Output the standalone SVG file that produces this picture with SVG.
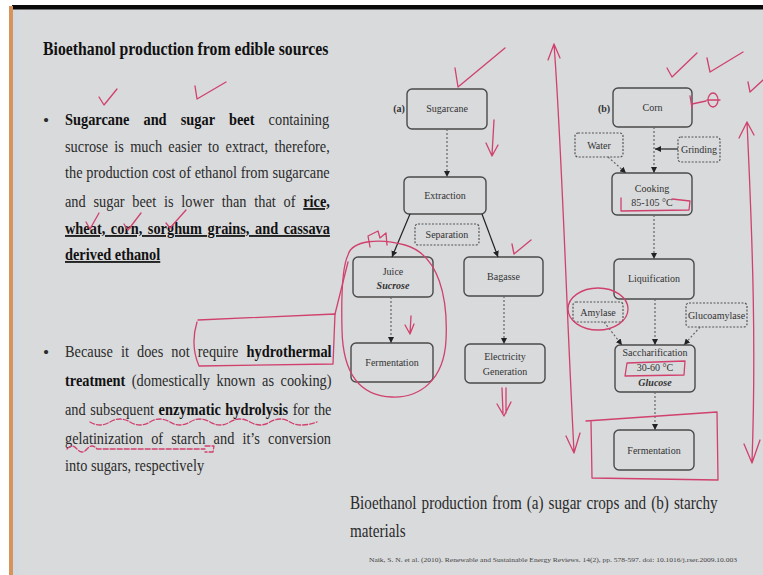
<svg xmlns="http://www.w3.org/2000/svg" width="763" height="575" viewBox="0 0 763 575">
<defs>
<style>
.t{font-family:"Liberation Serif","Times New Roman",serif;}
.body{font-size:17.5px;fill:#2a2a2a;}
.b{font-weight:bold;fill:#111;}
.u{text-decoration:underline;}
.lbl{font-family:"Liberation Serif","Times New Roman",serif;font-size:10px;fill:#333;text-anchor:middle;}
.box{fill:none;stroke:#4a4a4a;stroke-width:1.4;}
.dbox{fill:none;stroke:#555;stroke-width:1.2;stroke-dasharray:2 1.5;}
.cs{fill:none;stroke:#222;stroke-width:1.2;}
.cd{fill:none;stroke:#666;stroke-width:1.2;stroke-dasharray:2 2;}
.ann{fill:none;stroke:#d0416d;stroke-width:1.3;stroke-linecap:round;stroke-linejoin:round;}
</style>
<marker id="ah" viewBox="0 0 6 6" refX="6" refY="3" markerWidth="6" markerHeight="6" markerUnits="userSpaceOnUse" orient="auto">
<path d="M0,0 L6,3 L0,6 z" fill="#222"/>
</marker>
</defs>

<!-- frame -->
<rect x="0" y="0" width="763" height="575" fill="#ffffff"/>
<rect x="12" y="9" width="751" height="566" fill="#d9dadc"/>
<rect x="12" y="5" width="751" height="4.5" fill="#0a0a0a"/>
<rect x="9" y="6" width="4" height="569" fill="#d8935a"/>
<rect x="13" y="10" width="6" height="565" fill="#d2dae0"/>

<!-- left text -->
<g id="left-text">
<text transform="translate(43,55) scale(0.83,1)" class="t b" font-size="19">Bioethanol production from edible sources</text>
<text x="43" y="126" class="t body" font-size="16">•</text>
<text transform="translate(65,125) scale(0.82,1)" class="t body" word-spacing="12.9"><tspan class="b">Sugarcane and sugar beet</tspan> containing</text>
<text transform="translate(65,152) scale(0.82,1)" class="t body" word-spacing="3.3">sucrose is much easier to extract, therefore,</text>
<text transform="translate(65,178) scale(0.82,1)" class="t body" word-spacing="0.2">the production cost of ethanol from sugarcane</text>
<text transform="translate(65,207) scale(0.82,1)" class="t body" word-spacing="5.1">and sugar beet is lower than that of <tspan class="b u">rice,</tspan></text>
<text transform="translate(65,234) scale(0.82,1)" class="t body b u" word-spacing="2.4">wheat, corn, sorghum grains, and cassava</text>
<text transform="translate(65,260) scale(0.82,1)" class="t body b u">derived ethanol</text>

<text x="43" y="358" class="t body" font-size="16">•</text>
<text transform="translate(65,357) scale(0.82,1)" class="t body" word-spacing="5.5">Because it does not require <tspan class="b">hydrothermal</tspan></text>
<text transform="translate(65,386) scale(0.82,1)" class="t body" word-spacing="3.6"><tspan class="b">treatment</tspan> (domestically known as cooking)</text>
<text transform="translate(65,415) scale(0.82,1)" class="t body" word-spacing="1.2">and subsequent <tspan class="b">enzymatic hydrolysis</tspan> for the</text>
<text transform="translate(65,444) scale(0.82,1)" class="t body" word-spacing="5.5">gelatinization of starch and it’s conversion</text>
<text transform="translate(65,471) scale(0.82,1)" class="t body">into sugars, respectively</text>
</g>

<!-- diagram (a) -->
<text x="399" y="112" class="lbl" font-weight="bold">(a)</text>
<g id="a-sugarcane"><rect class="box" x="407" y="89" width="80" height="40" rx="5"/><text class="lbl" x="447" y="112">Sugarcane</text></g>
<g id="a-extraction"><rect class="box" x="404" y="177" width="82" height="37" rx="5"/><text class="lbl" x="445" y="199">Extraction</text></g>
<g id="a-separation"><rect class="dbox" x="415" y="224" width="64" height="21" rx="3"/><text class="lbl" x="447" y="238" font-size="9">Separation</text></g>
<g id="a-juice"><rect class="box" x="353" y="257" width="80" height="40" rx="5"/><text class="lbl" x="393" y="275">Juice</text><text class="lbl" x="393" y="289" font-style="italic" font-weight="bold">Sucrose</text></g>
<g id="a-bagasse"><rect class="box" x="464" y="257" width="79" height="39" rx="5"/><text class="lbl" x="503.5" y="280">Bagasse</text></g>
<g id="a-fermentation"><rect class="box" x="351" y="343" width="82" height="39" rx="5"/><text class="lbl" x="392" y="366">Fermentation</text></g>
<g id="a-electricity"><rect class="box" x="465" y="344" width="80" height="39" rx="5"/><text class="lbl" x="505" y="360">Electricity</text><text class="lbl" x="505" y="375">Generation</text></g>

<!-- diagram (b) -->
<text x="604" y="112" class="lbl" font-weight="bold">(b)</text>
<g id="b-corn"><rect class="box" x="613" y="88" width="79" height="39" rx="5"/><text class="lbl" x="652.5" y="111">Corn</text></g>
<g id="b-water"><rect class="dbox" x="575" y="133" width="48" height="24" rx="3"/><text class="lbl" x="599" y="149">Water</text></g>
<g id="b-grinding"><rect class="dbox" x="678" y="137" width="42" height="25" rx="3"/><text class="lbl" x="699" y="153">Grinding</text></g>
<g id="b-cooking"><rect class="box" x="612" y="173" width="80" height="42" rx="5"/><text class="lbl" x="652" y="192">Cooking</text><text class="lbl" x="652" y="206">85-105 °C</text></g>
<g id="b-liquification"><rect class="box" x="614" y="259" width="80" height="40" rx="5"/><text class="lbl" x="654" y="282">Liquification</text></g>
<g id="b-amylase"><rect class="dbox" x="573" y="302" width="50" height="20" rx="3"/><text class="lbl" x="598" y="315.5">Amylase</text></g>
<g id="b-glucoamylase"><rect class="dbox" x="686" y="303" width="61" height="24" rx="3"/><text class="lbl" x="716.5" y="318.5">Glucoamylase</text></g>
<g id="b-saccharification"><rect class="box" x="615" y="345" width="80" height="47" rx="5"/><text class="lbl" x="655" y="356">Saccharification</text><text class="lbl" x="655" y="371">30-60 °C</text><text class="lbl" x="655" y="386" font-style="italic" font-weight="bold">Glucose</text></g>
<g id="b-fermentation"><rect class="box" x="614" y="430" width="80" height="40" rx="5"/><text class="lbl" x="654" y="453.5">Fermentation</text></g>

<!-- connectors -->
<g id="connectors">
<path class="cd" d="M447,129 L447,177" marker-end="url(#ah)"/>
<path class="cs" d="M410,214 L392,257" marker-end="url(#ah)"/>
<path class="cs" d="M482,214 L498,257" marker-end="url(#ah)"/>
<path class="cd" d="M391,297 L391,343" marker-end="url(#ah)"/>
<path class="cd" d="M504,296 L504,344" marker-end="url(#ah)"/>
<path class="cd" d="M654,127 L654,173" marker-end="url(#ah)"/>
<path class="cs" d="M678,149 L655,149" marker-end="url(#ah)"/>
<path class="cd" d="M608,157 L626,173" marker-end="url(#ah)"/>
<path class="cd" d="M654,215 L654,259" marker-end="url(#ah)"/>
<path class="cd" d="M604,322 L622,345" marker-end="url(#ah)"/>
<path class="cd" d="M655,299 L655,345" marker-end="url(#ah)"/>
<path class="cd" d="M700,327 L684,345" marker-end="url(#ah)"/>
<path class="cd" d="M655,392 L655,430" marker-end="url(#ah)"/>
</g>

<!-- caption and citation -->
<text transform="translate(350,509) scale(0.82,1)" class="t" font-size="18.5" fill="#2a2a2a" word-spacing="1.5">Bioethanol production from (a) sugar crops and (b) starchy</text>
<text transform="translate(350,537) scale(0.82,1)" class="t" font-size="18.5" fill="#2a2a2a">materials</text>
<text x="369" y="562" class="t" font-size="6.5" fill="#444" textLength="368" lengthAdjust="spacingAndGlyphs">Naik, S. N. et al. (2010). Renewable and Sustainable Energy Reviews. 14(2), pp. 578-597. doi: 10.1016/j.rser.2009.10.003</text>

<!-- handwritten annotations -->
<g id="annotations" class="ann">
<path d="M99,97 L104,105 L117,89"/>
<path d="M195,86 L197,99 L226,82"/>
<path d="M86,222 L90,229 L99,213"/>
<path d="M124,224 L128,230 L141,213"/>
<path d="M166,223 L170,228 L186,210"/>
<path d="M197,322 Q190,345 199,366 L333,364 L335,314 L198,320"/>
<path d="M335,314 L348,262"/>
<path d="M90,422 Q100,428 110,422 T130,422 T150,422 T170,422 T190,422 T210,422 T230,422 T250,422 T270,422 T290,422 T317,422" stroke-dasharray="5 2"/>
<path d="M67,449 Q72,443 77,449 T87,449 T97,449 L205,449 M205,446 L214,446 L213,452 L205,452" stroke-dasharray="5 2"/>
<path d="M348,255 C352,240 380,238 405,245 C440,255 448,300 446,340 C444,380 420,398 392,397 C360,396 343,375 342,330 C341,290 343,265 348,255 Z"/>
<path d="M370,247 L368,236 L378,231 L380,238 L386,233 L387,245"/>
<path d="M455,68 L458,87 L505,48"/>
<path d="M494,120 L492,155 M486,143 L492,156 L498,145"/>
<path d="M512,244 L514,254 L531,240"/>
<path d="M411,316 L410,334 M405,325 L410,334 L414,324"/>
<path d="M502,388 L503,413 M506,388 L506,413 M497,404 L504,416 L511,402"/>
<path d="M554,44 C562,150 566,300 574,452 M548,60 L554,44 L560,58 M566,436 L574,453 L580,433"/>
<path d="M747,122 C753,250 756,350 752,462 M739,138 L747,122 L754,135 M744,444 L752,463 L760,440"/>
<path d="M667,68 L672,77 L697,53"/>
<path d="M707,58 L710,72 L743,52"/>
<path d="M748,82 L750,92 L763,80"/>
<path d="M690,96 L692,108 M692,104 L706,101 M707,100 L720,100"/>
<ellipse cx="713" cy="100" rx="5" ry="7"/>
<path d="M621,198 L621,211 L689,210 L690,201 L672,199"/>
<ellipse cx="598" cy="309" rx="30" ry="21"/>
<path d="M627,363 L685,361 L684,375 L625,376 Z"/>
<path d="M586,421 L717,412 L718,480 L592,478 L591,421"/>
</g>
</svg>
